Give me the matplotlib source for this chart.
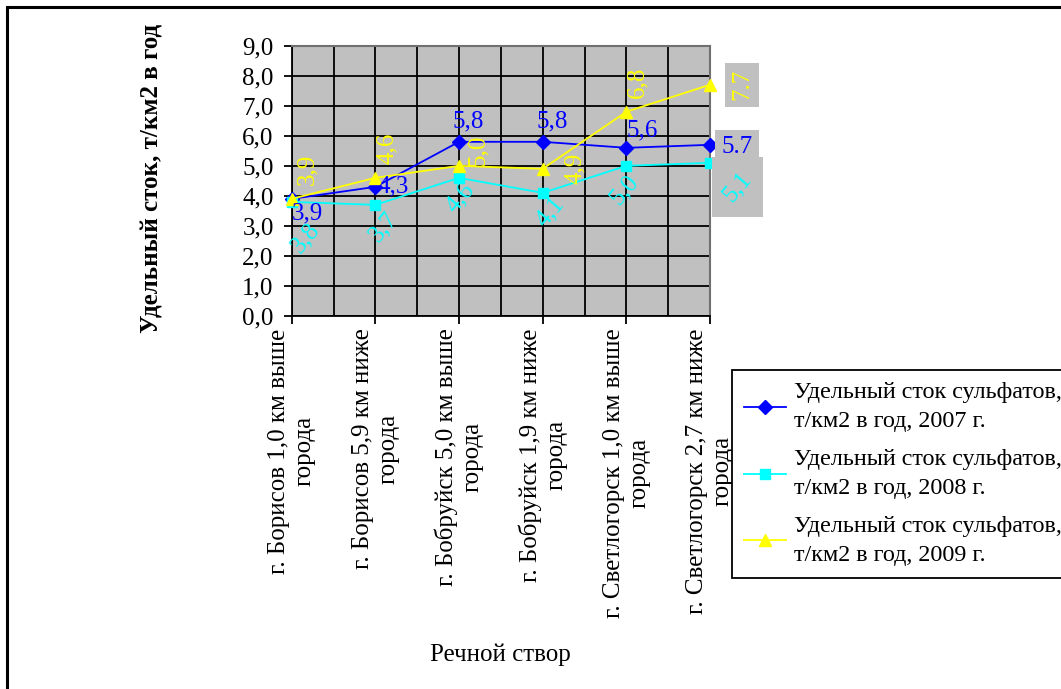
import matplotlib
matplotlib.use("Agg")
import matplotlib.pyplot as plt
from matplotlib.lines import Line2D
from matplotlib.patches import Rectangle
from matplotlib.transforms import IdentityTransform
from matplotlib.ticker import FuncFormatter, MultipleLocator

plt.rcParams['font.family'] = ['Liberation Serif', 'DejaVu Serif']

categories = [
    "г. Борисов 1,0 км выше\nгорода",
    "г. Борисов 5,9 км ниже\nгорода",
    "г. Бобруйск 5,0 км выше\nгорода",
    "г. Бобруйск 1,9 км ниже\nгорода",
    "г. Светлогорск 1,0 км выше\nгорода",
    "г. Светлогорск 2,7 км ниже\nгорода",
]
values_2007 = [3.9, 4.3, 5.8, 5.8, 5.6, 5.7]
values_2008 = [3.8, 3.7, 4.6, 4.1, 5.0, 5.1]
values_2009 = [3.9, 4.6, 5.0, 4.9, 6.8, 7.7]
series_names = [
    "Удельный сток сульфатов,\nт/км2 в год, 2007 г.",
    "Удельный сток сульфатов,\nт/км2 в год, 2008 г.",
    "Удельный сток сульфатов,\nт/км2 в год, 2009 г.",
]
y_title = "Удельный сток, т/км2 в год"
x_title = "Речной створ"

FS = 18
W, H = 1061, 689
fig = plt.figure(figsize=(W / 100, H / 100), dpi=100)
fig.patch.set_facecolor('white')

# figure border (right and bottom edges fall outside the picture)
fig.add_artist(Rectangle((6.5 / W, -0.5), 1.5, 1.5 - 6.5 / H,
                         transform=fig.transFigure, fill=False,
                         edgecolor='black', linewidth=2.2, clip_on=False))

ax = fig.add_axes([291.7 / W, 1 - 316 / H, (710 - 291.7) / W, (316 - 45.7) / H])
ax.set_facecolor('#C0C0C0')
x = list(range(len(categories)))
ax.set_xlim(0, len(categories) - 1)
ax.set_ylim(0, 9)

ax.yaxis.set_major_locator(MultipleLocator(1))
ax.yaxis.set_major_formatter(FuncFormatter(lambda v, p: f"{v:.1f}".replace('.', ',')))
ax.set_xticks(x)
ax.set_xticks([i + 0.5 for i in x[:-1]], minor=True)
ax.set_xticklabels(categories, rotation=90, ha='center', va='top',
                   multialignment='center', fontsize=FS, linespacing=1.2)
ax.tick_params(axis='x', which='minor', length=0)
ax.tick_params(axis='both', which='major', direction='out', length=6,
               width=1.3, labelsize=FS, color='black')
ax.tick_params(axis='x', which='major', pad=3)
ax.tick_params(axis='y', which='major', pad=7)

ax.grid(True, which='major', axis='y', color='black', linewidth=1.3)
ax.grid(True, which='both', axis='x', color='black', linewidth=1.3)
ax.set_axisbelow(True)
for s in ['top', 'right']:
    ax.spines[s].set_color('#707070')
    ax.spines[s].set_linewidth(1.5)
for s in ['left', 'bottom']:
    ax.spines[s].set_color('black')
    ax.spines[s].set_linewidth(1.3)

blue, cyan, yellow = '#0000FF', '#00FFFF', '#FFFF00'
ax.plot(x, values_2007, color=blue, marker='D', markersize=7, linewidth=1.3,
        clip_on=False, zorder=3)
ax.plot(x, values_2008, color=cyan, marker='s', markersize=7, linewidth=1.3,
        clip_on=False, zorder=4)
ax.plot(x, values_2009, color=yellow, marker='^', markersize=9, linewidth=1.3,
        clip_on=False, zorder=5)

# label offsets (pixels, dx right, dy down)
off_2007 = [(16, 15), (18, 0), (9, -20), (10, -20), (16, -17), (27, 2)]
off_2008 = [(14, 36), (8, 22), (1, 20), (8, 19), (-2, 24), (27, 24)]
off_2009 = [(16, -29), (12, -30), (19, -16), (32, 0), (11, -29), (32, 0)]


def fmt(v, sep):
    return f"{v:.1f}".replace('.', sep)


def put_labels(vals, offs, color, rot, seps, boxed_last):
    for i, (v, (dx, dy)) in enumerate(zip(vals, offs)):
        kw = {}
        if boxed_last and i == len(vals) - 1:
            kw['bbox'] = dict(boxstyle='square,pad=0.25', facecolor='#C0C0C0',
                              edgecolor='none')
        ax.annotate(fmt(v, seps[i]), (i, v), xytext=(dx, -dy),
                    textcoords='offset pixels', ha='center', va='center',
                    rotation=rot, rotation_mode='anchor', color=color,
                    fontsize=FS, annotation_clip=False, zorder=7, **kw)


put_labels(values_2007, off_2007, blue, 0, [',', ',', ',', ',', ',', '.'], True)
put_labels(values_2008, off_2008, cyan, 50, [','] * 6, False)
put_labels(values_2009, off_2009, yellow, 90, [',', ',', ',', ',', ',', '.'], True)

# axis-aligned grey box behind the last rotated 2008 label
px, py = ax.transData.transform((x[-1], values_2008[-1]))
dx, dy = off_2008[-1]
bw, bh = 51, 60
ax.add_patch(Rectangle((px + dx - bw / 2, py - dy - bh / 2), bw, bh,
                       transform=IdentityTransform(), facecolor='#C0C0C0',
                       edgecolor='none', zorder=6, clip_on=False))

fig.text(152 / W, 1 - 178 / H, y_title, rotation=90, ha='center', va='center',
         fontsize=FS, fontweight='bold')
fig.text(500 / W, 1 - 655 / H, x_title, ha='center', va='center', fontsize=FS)

handles = [
    Line2D([], [], color=blue, marker='D', markersize=7, linewidth=1.3),
    Line2D([], [], color=cyan, marker='s', markersize=7, linewidth=1.3),
    Line2D([], [], color=yellow, marker='^', markersize=9, linewidth=1.3),
]
LFS = 17.4
leg = fig.legend(handles, series_names, loc='upper left',
                 bbox_to_anchor=(732 / W, 1 - 370 / H),
                 bbox_transform=fig.transFigure, frameon=True, fancybox=False,
                 edgecolor='black', facecolor='white', framealpha=1,
                 fontsize=LFS, handlelength=1.75, handletextpad=0.3,
                 borderpad=0.5, labelspacing=0.7, borderaxespad=0)
leg.get_frame().set_linewidth(1.3)
for t in leg.get_texts():
    t.set_linespacing(1.5)
leg.set_zorder(10)

fig.savefig('out.png', dpi=100)
